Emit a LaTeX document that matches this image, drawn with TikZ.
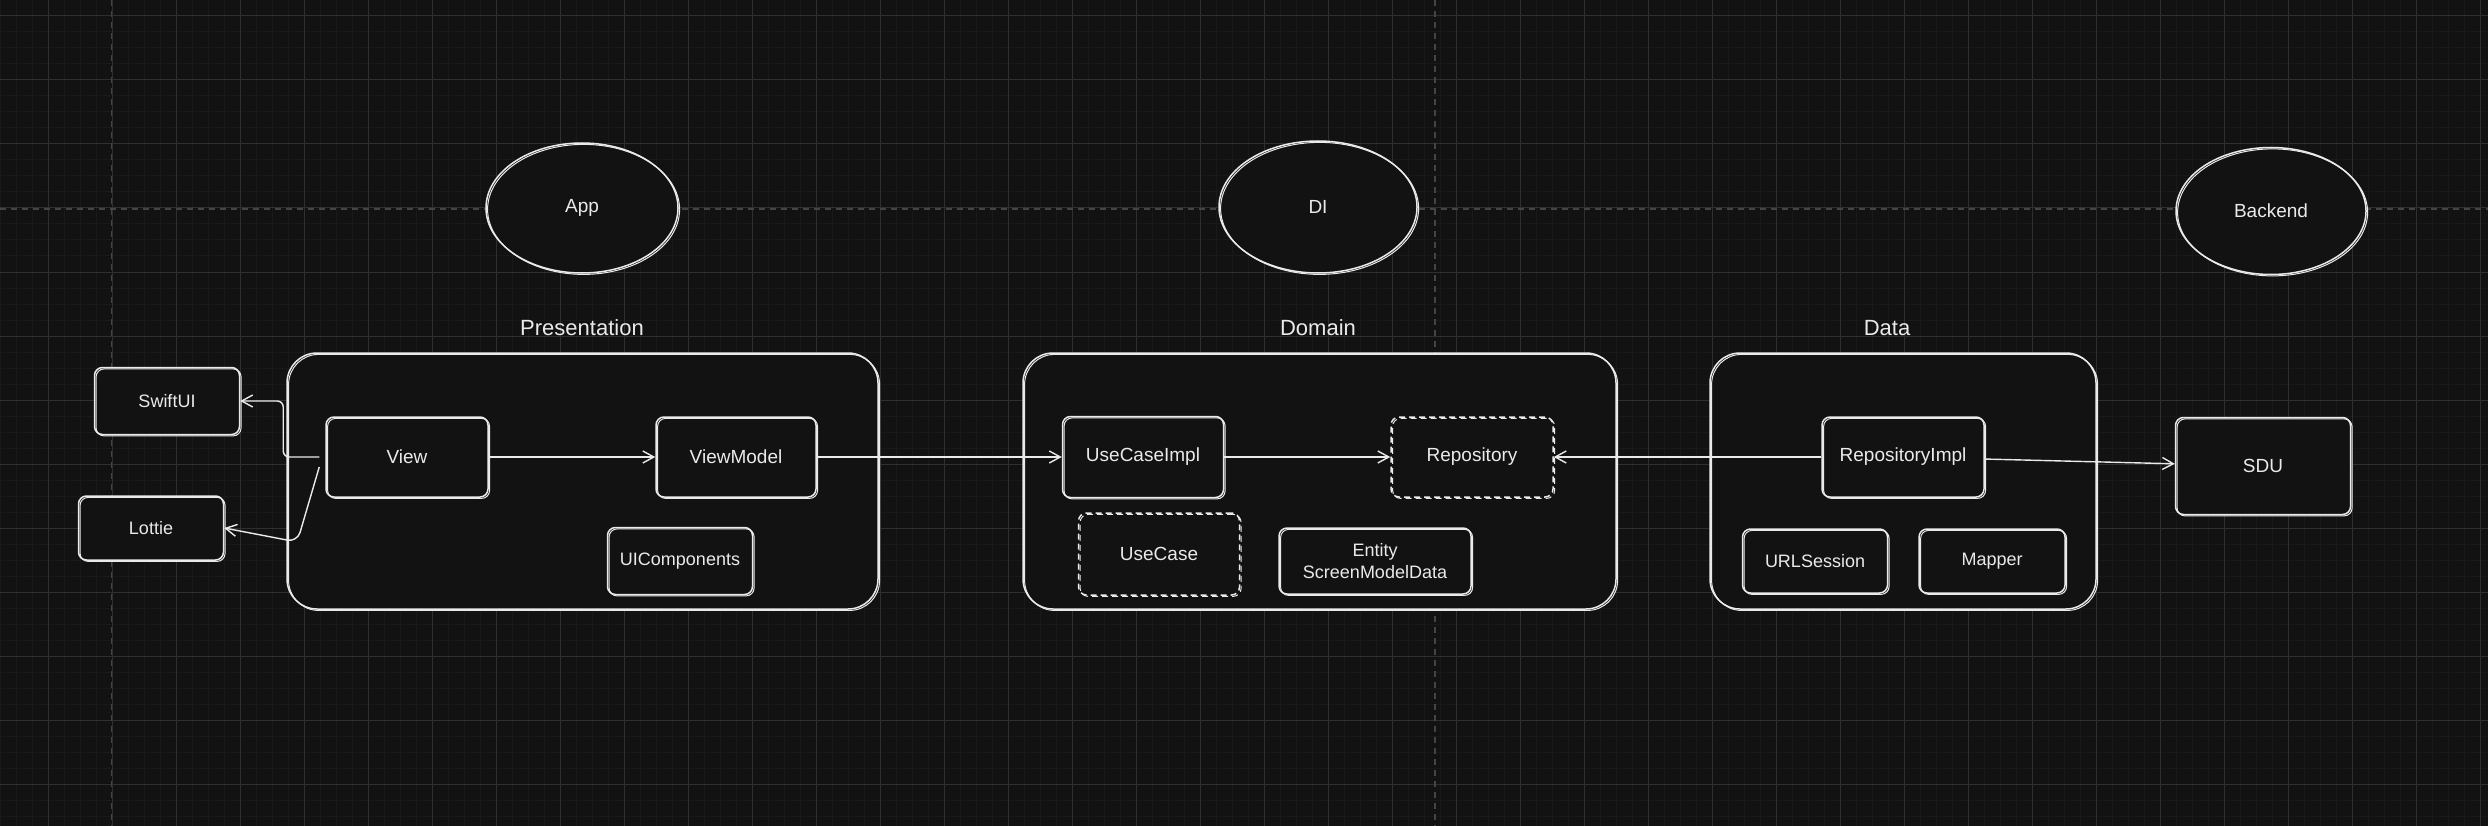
\documentclass[tikz,border=0pt]{standalone}
\usepackage{fontspec}
\setmainfont{Liberation Sans}
\usetikzlibrary{arrows.meta, shapes.geometric}

\definecolor{bg}{HTML}{121212}
\definecolor{minorgrid}{HTML}{191919}
\definecolor{majorgrid}{HTML}{2F2F2F}
\definecolor{guide}{HTML}{444444}
\definecolor{ink}{HTML}{EAEAEA}

\tikzset{
  sketch/.style={draw=ink, line width=1.5pt, fill=bg,
    postaction={draw=ink, line width=1pt, transform canvas={shift={(1.6pt,-1.4pt)}}}},
  layer/.style={sketch, rectangle, rounded corners=30pt},
  box/.style={sketch, rectangle, rounded corners=8pt, inner sep=0pt, text=ink,
    font=\fontsize{19}{23}\selectfont},
  lib/.style={box, font=\fontsize{18}{22}\selectfont, align=center},
  dbox/.style={box, dash pattern=on 6pt off 4pt},
  blob/.style={sketch, ellipse, inner sep=0pt, text=ink, font=\fontsize{19}{23}\selectfont},
  title/.style={text=ink, font=\fontsize{22}{26}\selectfont},
  arr/.style={draw=ink, line width=1.4pt, -{Straight Barb[length=11pt,width=12pt]}}
}

\begin{document}
\begin{tikzpicture}[x=1pt, y=-1pt]
\useasboundingbox (0,0) rectangle (2488,826);

% canvas
\begin{scope}
  \clip (0,0) rectangle (2488,826);
  \fill[bg] (0,0) rectangle (2488,826);
  \draw[minorgrid, line width=1pt, step=16pt] (-100,-100) grid (2600,900);
  \draw[majorgrid, line width=1pt, step=64pt, shift={(48pt,48pt)}] (-200,-200) grid (2600,900);
  \draw[guide, line width=1.3pt, dash pattern=on 6pt off 5pt] (111.5,0) -- (111.5,826);
  \draw[guide, line width=1.3pt, dash pattern=on 6pt off 5pt] (1435,0) -- (1435,826);
  \draw[guide, line width=1.3pt, dash pattern=on 6pt off 5pt] (0,209) -- (2488,209);
\end{scope}

% top row
\node[blob, minimum width=192pt, minimum height=130pt] (0) at (582,208) {App};
\node[blob, minimum width=198pt, minimum height=132pt] (1) at (1318,207) {DI};
\node[blob, minimum width=190pt, minimum height=127pt] (2) at (2271,211) {Backend};

% layers
\node[layer, minimum width=591pt, minimum height=256pt] (3) at (582.5,481) {};
\node[layer, minimum width=593pt, minimum height=256pt] (4) at (1319.5,481) {};
\node[layer, minimum width=386pt, minimum height=256pt] (5) at (1903,481) {};
\node[title] (6) at (582,328) {Presentation};
\node[title] (7) at (1318,328) {Domain};
\node[title] (8) at (1887,328) {Data};

% presentation
\node[lib, minimum width=145pt, minimum height=67pt] (9) at (167,401) {SwiftUI};
\node[lib, minimum width=145pt, minimum height=64pt] (10) at (151,528) {Lottie};
\node[box, minimum width=162pt, minimum height=80pt] (11) at (407,457) {View};
\node[box, minimum width=160pt, minimum height=80pt] (12) at (736,457) {ViewModel};
\node[lib, minimum width=145pt, minimum height=67pt] (13) at (680,561) {UIComponents};

% domain
\node[box, minimum width=161pt, minimum height=81pt] (14) at (1143,457) {UseCaseImpl};
\node[dbox, minimum width=162pt, minimum height=80pt] (15) at (1472,457) {Repository};
\node[dbox, minimum width=161pt, minimum height=82pt] (16) at (1159,554) {UseCase};
\node[lib, minimum width=192pt, minimum height=66pt] (17) at (1375,561) {Entity\\ScreenModelData};

% data
\node[box, minimum width=162pt, minimum height=80pt] (18) at (1903,457) {RepositoryImpl};
\node[lib, minimum width=145pt, minimum height=64pt] (19) at (1815,561) {URLSession};
\node[lib, minimum width=146pt, minimum height=64pt] (20) at (1992,561) {Mapper};
\node[box, minimum width=175pt, minimum height=97pt] (21) at (2263,466) {SDU};

\draw[arr, rounded corners=6pt] ([xshift=-6pt]11.west) -- ++(-36,0) |- (9.east);
\draw[arr, rounded corners=10pt] ([xshift=-6pt,yshift=-10pt]11.west) -- ++(-22,75) -- (10.east);
\draw[arr] (11) -- (12);
\draw[arr] (12) -- (14);
\draw[arr] (14) -- (15);
\draw[arr] (18) -- (15);
\draw[arr] (18) -- (21);

\end{tikzpicture}
\end{document}
